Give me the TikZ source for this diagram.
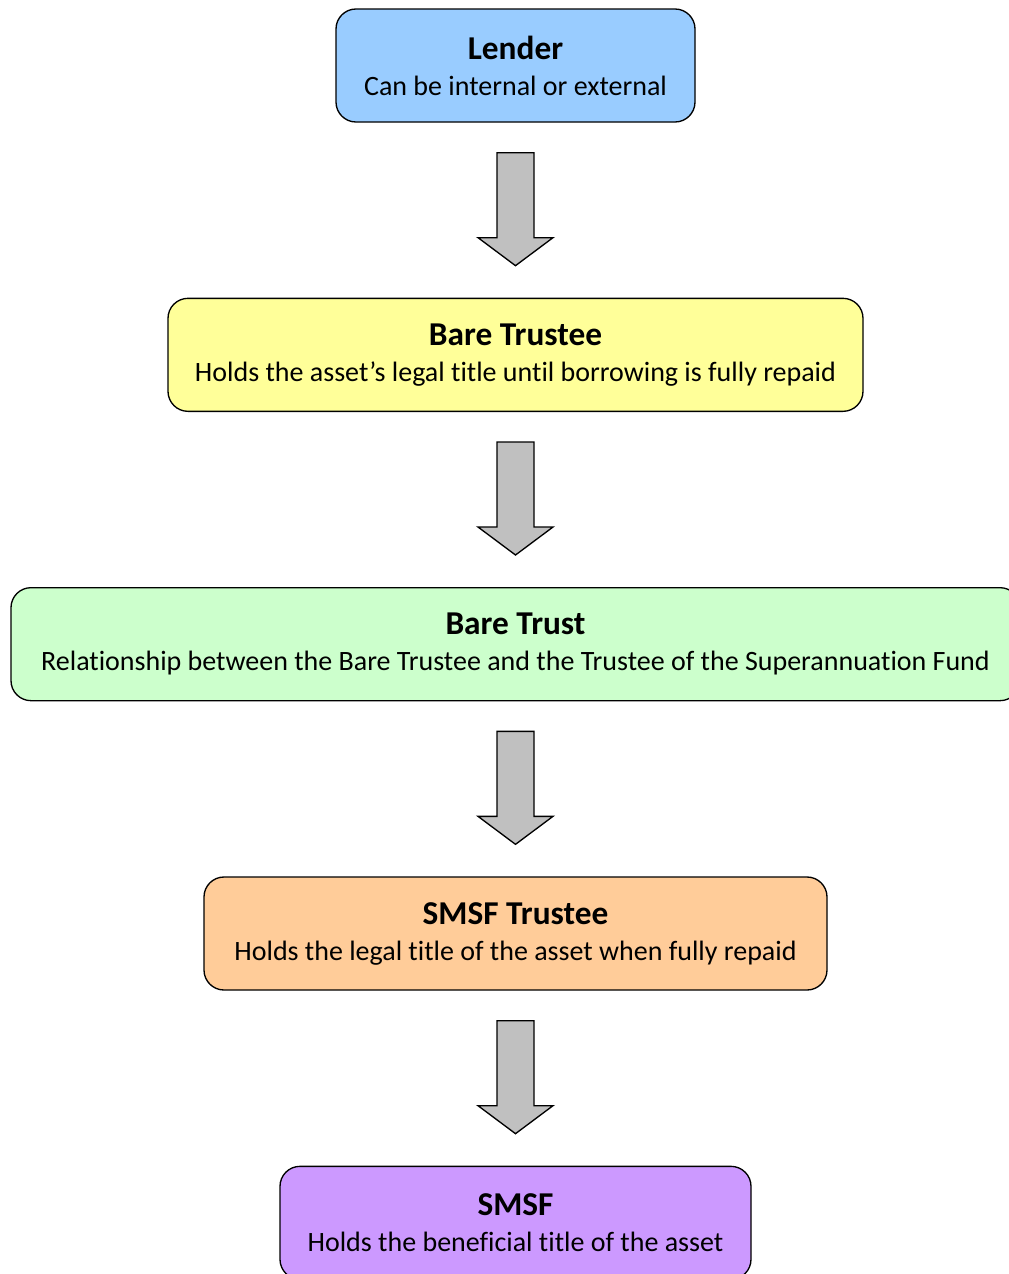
\documentclass[tikz,border=0pt]{standalone}
\usepackage{fontspec}
\setmainfont{Carlito}[Ligatures=NoCommon]
\usetikzlibrary{calc, positioning}
\definecolor{lblue}{HTML}{99ccff}
\definecolor{lyell}{HTML}{ffff99}
\definecolor{lgreen}{HTML}{ccffcc}
\definecolor{lorange}{HTML}{ffcc99}
\definecolor{lviolet}{HTML}{cc99ff}
\definecolor{agrey}{HTML}{c0c0c0}

\begin{document}
\begin{tikzpicture}[x=0.75pt, y=-0.75pt, node distance=131.25pt,
        every node/.style={font=\fontsize{21}{27}\selectfont},
        box/.style={draw, line width=1pt, rounded corners=15pt, align=center, minimum height=84.75pt, inner sep=0pt},
        bigarrow/.style={draw, line width=1pt, fill=agrey, line join=miter}]
        \useasboundingbox (0,0) rectangle (1009,1274);
        \node[box, fill=lblue, minimum width=269.25pt] (lender) at (515.5,65.5) {{\fontsize{25}{27}\selectfont\bfseries Lender}\\Can be internal or external};
        \node[box, fill=lyell, minimum width=521.25pt] (btee) [below=of lender] {{\fontsize{25}{27}\selectfont\bfseries Bare Trustee}\\Holds the asset’s legal title until borrowing is fully repaid};
        \node[box, fill=lgreen, minimum width=756.75pt] (btrust) [below=of btee] {{\fontsize{25}{27}\selectfont\bfseries Bare Trust}\\Relationship between the Bare Trustee and the Trustee of the Superannuation Fund};
        \node[box, fill=lorange, minimum width=467.25pt] (stee) [below=of btrust] {{\fontsize{25}{27}\selectfont\bfseries SMSF Trustee}\\Holds the legal title of the asset when fully repaid};
        \node[box, fill=lviolet, minimum width=353.25pt] (smsf) [below=of stee] {{\fontsize{25}{27}\selectfont\bfseries SMSF}\\Holds the beneficial title of the asset};
        \foreach \a/\b in {lender/btee, btee/btrust, btrust/stee, stee/smsf}
            \draw[bigarrow] ($(\b.north)+(0,-32)$) -- ++(-37.5,-28) -- ++(19,0) -- ++(0,-85) -- ++(37,0) -- ++(0,85) -- ++(19,0) -- cycle;
    \end{tikzpicture}
\end{document}
